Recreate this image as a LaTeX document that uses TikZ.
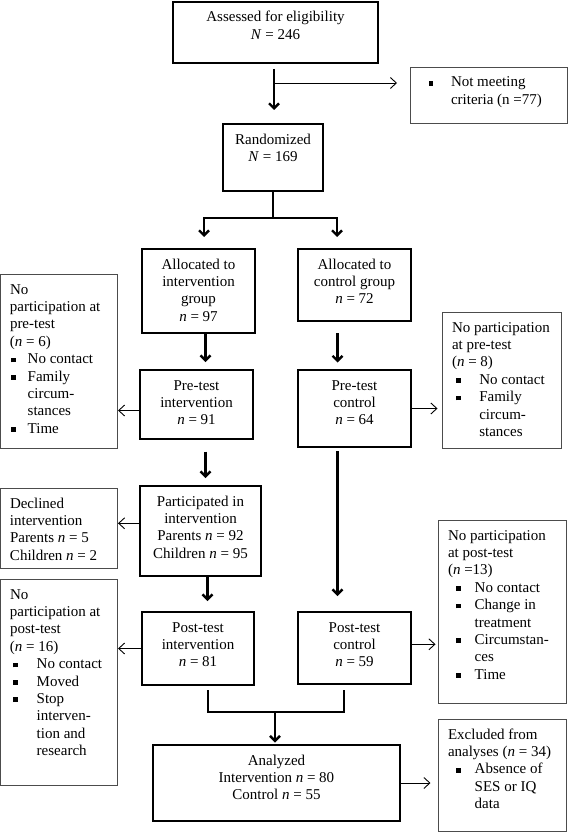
\documentclass[tikz,border=0pt]{standalone}
\usepackage{fontspec}
\setmainfont{Liberation Serif}
\usetikzlibrary{arrows.meta,calc}
\newcommand{\bul}{\raisebox{1.3pt}{\rule{4.8pt}{4.8pt}}}
\newcommand{\bi}[3]{\hspace*{#1pt}\makebox[\dimexpr #2pt-#1pt\relax][l]{\bul}#3}
\newcommand{\ci}[2]{\hspace*{#1pt}#2}
\newcommand{\cbx}[3]{\parbox[c][#2pt][t]{#1pt}{\centering\rule{0pt}{20pt}#3}}
\newcommand{\lbx}[3]{\parbox[c][#2pt][t]{#1pt}{\raggedright\rule{0pt}{20pt}#3}}
\tikzset{
  tbox/.style={draw=black, line width=2.4pt, inner sep=0pt, outer sep=0pt, anchor=north west},
  nbox/.style={draw=black!70, line width=0.9pt, inner sep=0pt, outer sep=0pt, anchor=north west},
  tkl/.style={line width=2.4pt},
  tka/.style={line width=2.4pt, -{Straight Barb[length=5pt,width=10pt]}},
  tna/.style={line width=0.9pt, -{Straight Barb[length=6pt,width=11pt]}}
}
\begin{document}
\begin{tikzpicture}[x=1pt,y=-1pt,font=\fontsize{15}{17.4}\selectfont]
\useasboundingbox (0,0) rectangle (568,832);

% boxes
\node[tbox] (assess) at (173,2) {\cbx{205}{61}{Assessed for eligibility\\ \textit{N} = 246}};
\node[nbox] (notmeet) at (410,67) {\lbx{157}{56}{\bi{18.6}{41}{Not meeting}\\ \ci{41}{criteria (n =77)}}};
\node[tbox] (rand) at (223,124) {\cbx{100}{67}{Randomized\\ \textit{N} = 169}};
\node[tbox] (allocI) at (142,249) {\cbx{113}{84}{Allocated to\\ intervention\\ group\\ \textit{n} = 97}};
\node[tbox] (allocC) at (298,249) {\cbx{113}{72}{Allocated to\\ control group\\ \textit{n} = 72}};
\node[tbox] (preI) at (140,370) {\cbx{113}{69}{Pre-test\\ intervention\\ \textit{n} = 91}};
\node[tbox] (preC) at (298,370) {\cbx{113}{77}{Pre-test\\ control\\ \textit{n} = 64}};
\node[nbox] (leftPre) at (0.5,274) {\lbx{116.5}{174}{\ci{9.5}{No}\\ \ci{9.5}{participation at}\\ \ci{9.5}{pre-test}\\ \ci{9.5}{(\textit{n} = 6)}\\ \bi{10.5}{27.2}{No contact}\\ \bi{10.5}{27.2}{Family}\\ \ci{27.2}{circum-}\\ \ci{27.2}{stances}\\ \bi{10.5}{27.2}{Time}}};
\node[nbox] (rightPre) at (442,312) {\lbx{119}{136}{\ci{10}{No participation}\\ \ci{10}{at pre-test}\\ \ci{10}{(\textit{n} = 8)}\\ \bi{14.3}{37.3}{No contact}\\ \bi{14.3}{37.3}{Family}\\ \ci{37.3}{circum-}\\ \ci{37.3}{stances}}};
\node[tbox] (part) at (140,486) {\cbx{121}{90}{Participated in\\ intervention\\ Parents \textit{n} = 92\\ Children \textit{n} = 95}};
\node[nbox] (declined) at (0.5,488) {\lbx{116.5}{80}{\ci{9.5}{Declined}\\ \ci{9.5}{intervention}\\ \ci{9.5}{Parents \textit{n} = 5}\\ \ci{9.5}{Children \textit{n} = 2}}};
\node[tbox] (postI) at (142,612) {\cbx{112}{73}{Post-test\\ intervention\\ \textit{n} = 81}};
\node[tbox] (postC) at (298,612) {\cbx{113}{72}{Post-test\\ control\\ \textit{n} = 59}};
\node[nbox] (leftPost) at (0.5,579) {\lbx{116.5}{206}{\ci{9.5}{No}\\ \ci{9.5}{participation at}\\ \ci{9.5}{post-test}\\ \ci{9.5}{(\textit{n} = 16)}\\ \bi{13}{36.2}{No contact}\\ \bi{13}{36.2}{Moved}\\ \bi{13}{36.2}{Stop}\\ \ci{36.2}{interven-}\\ \ci{36.2}{tion and}\\ \ci{36.2}{research}}};
\node[nbox] (rightPost) at (438,520) {\lbx{128}{183}{\ci{10}{No participation}\\ \ci{10}{at post-test}\\ \ci{10}{(\textit{n} =13)}\\ \bi{17.7}{36.7}{No contact}\\ \bi{17.7}{36.7}{Change in}\\ \ci{36.7}{treatment}\\ \bi{17.7}{36.7}{Circumstan-}\\ \ci{36.7}{ces}\\ \bi{17.7}{36.7}{Time}}};
\node[tbox] (anal) at (153,745) {\cbx{247}{76}{Analyzed\\ Intervention \textit{n} = 80\\ Control \textit{n} = 55}};
\node[nbox] (excl) at (438,719) {\lbx{128}{112}{\ci{10}{Excluded from}\\ \ci{10}{analyses (\textit{n} = 34)}\\ \bi{17.7}{36.7}{Absence of}\\ \ci{36.7}{SES or IQ}\\ \ci{36.7}{data}}};

% coordinates
\coordinate (br) at ($(assess.south)+(-1.5,20)$);
\coordinate (sp) at ($(rand.south)+(0,27)$);
\coordinate (mg) at ($(anal.north)+(-1.5,-33)$);

% connectors
\draw[tka, shorten <=6pt, shorten >=14pt] ([xshift=-1.5pt]assess.south) -- ([xshift=-1.5pt]assess.south |- rand.north);
\draw[tna, shorten >=13pt] (br) -- (br -| notmeet.west);
\draw[tkl] (rand.south) -- (sp);
\draw[tka, shorten >=12pt] (sp) -| ([xshift=5.5pt]allocI.north);
\draw[tka, shorten >=12pt] (sp) -| ([xshift=-17.5pt]allocC.north);
\draw[tka, shorten >=8pt] ([xshift=7pt]allocI.south) -- ([xshift=7pt]allocI.south |- preI.north);
\draw[tka, shorten <=12.5pt, shorten >=8pt] ([xshift=9pt]preI.south) -- ([xshift=9pt]preI.south |- part.north);
\draw[tka, shorten >=11pt] ([xshift=7pt]part.south) -- ([xshift=7pt]part.south |- postI.north);
\draw[tka, shorten <=12pt, shorten >=7.5pt] ([xshift=-17pt]allocC.south) -- ([xshift=-17pt]allocC.south |- preC.north);
\draw[tka, shorten <=4pt, shorten >=16pt] ([xshift=-17pt]preC.south) -- ([xshift=-17pt]preC.south |- postC.north);
\draw[tkl] ([xshift=10pt,yshift=-5pt]postI.south) |- ([xshift=-10.5pt,yshift=-28pt]postC.south) -- ([xshift=-10.5pt,yshift=-6pt]postC.south);
\draw[tka, shorten >=2.5pt] (mg) -- (mg |- anal.north);

\draw[tna, shorten >=1pt] ([yshift=-6pt]preI.west) -- ([yshift=-6pt]preI.west -| leftPre.east);
\draw[tna, shorten >=4.5pt] (preC.east) -- (preC.east -| rightPre.west);
\draw[tna, shorten >=1pt] ([yshift=7.7pt]part.west) -- ([yshift=7.7pt]part.west -| declined.east);
\draw[tna, shorten >=1pt] (postI.west) -- (postI.west -| leftPost.east);
\draw[tna, shorten >=2.5pt] ([yshift=3.7pt]postC.east) -- ([yshift=3.7pt]postC.east -| rightPost.west);
\draw[tna, shorten >=7.5pt] (anal.east) -- (anal.east -| excl.west);
\end{tikzpicture}
\end{document}
